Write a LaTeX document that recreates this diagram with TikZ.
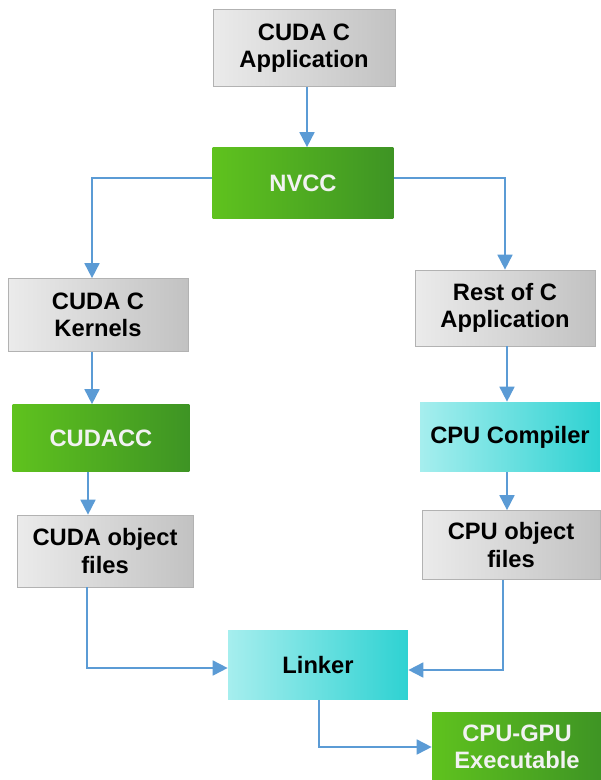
\documentclass[tikz,border=0pt]{standalone}
\usepackage{fontspec}
\setmainfont{Liberation Sans}
\usetikzlibrary{arrows.meta,calc}
\definecolor{arrowblue}{HTML}{5B9BD5}
\definecolor{greenA}{HTML}{5FC21E}
\definecolor{greenB}{HTML}{3E9424}
\definecolor{cyanA}{HTML}{A6EEEE}
\definecolor{cyanB}{HTML}{2ED2D2}
\definecolor{grayA}{HTML}{EBEBEB}
\definecolor{grayB}{HTML}{C2C2C2}
\begin{document}
\begin{tikzpicture}[x=0.02cm,y=-0.02cm,
  box/.style={align=center, inner sep=0pt,
    font=\fontsize{13.5}{15.6}\selectfont\bfseries},
  graybox/.style={box, left color=grayA, right color=grayB, draw=gray!60, line width=0.4pt},
  greenbox/.style={box, left color=greenA, right color=greenB, text=white!95!black},
  cyanbox/.style={box, left color=cyanA, right color=cyanB, text=black},
  conn/.style={draw=arrowblue, line width=1pt,
    -{Triangle[width=0.3cm,length=0.3cm]}}]
\useasboundingbox (0,0) rectangle (600,780);

\node[graybox, minimum width=3.64cm, minimum height=1.54cm] (app) at (304,48) {CUDA C\\Application};
\node[greenbox, minimum width=3.62cm, minimum height=1.42cm] (nvcc) at (303,183) {NVCC};
\node[graybox, minimum width=3.6cm, minimum height=1.46cm] (kern) at (98,315) {CUDA C\\Kernels};
\node[greenbox, minimum width=3.54cm, minimum height=1.34cm] (cudacc) at (101,438) {CUDACC};
\node[graybox, minimum width=3.52cm, minimum height=1.44cm] (cobj) at (105,551) {CUDA object\\files};
\node[graybox, minimum width=3.6cm, minimum height=1.52cm] (rest) at (505,308) {Rest of C\\Application};
\node[cyanbox, minimum width=3.6cm, minimum height=1.4cm] (cpucomp) at (510,437) {CPU Compiler};
\node[graybox, minimum width=3.56cm, minimum height=1.38cm] (cpuobj) at (511,545) {CPU object\\files};
\node[cyanbox, minimum width=3.6cm, minimum height=1.38cm] (linker) at (318,665) {Linker};
\node[greenbox, minimum width=3.4cm, minimum height=1.4cm] (exe) at (517,747) {CPU-GPU\\Executable};

\draw[conn] ([xshift=0.06cm]app.south) -- ([xshift=0.06cm]app.south |- nvcc.north);
\draw[conn] ([yshift=0.1cm]nvcc.west) -| ([xshift=-0.12cm]kern.north);
\draw[conn] ([yshift=0.1cm]nvcc.east) -| (rest.north);
\draw[conn] ([xshift=-0.12cm]kern.south) -- ([xshift=-0.12cm]kern.south |- cudacc.north);
\draw[conn] ([xshift=-0.26cm]cudacc.south) -- ([xshift=-0.26cm]cudacc.south |- cobj.north);
\draw[conn] ([xshift=0.04cm]rest.south) -- ([xshift=0.04cm]rest.south |- cpucomp.north);
\draw[conn] ([xshift=-0.06cm]cpucomp.south) -- ([xshift=-0.06cm]cpucomp.south |- cpuobj.north);
\draw[conn] ([xshift=-0.36cm]cobj.south) |- ([yshift=-0.06cm]linker.west);
\draw[conn] ([xshift=-0.16cm]cpuobj.south) |- ([yshift=-0.1cm]linker.east);
\draw[conn] ([xshift=0.02cm]linker.south) |- (exe.west);
\end{tikzpicture}
\end{document}
